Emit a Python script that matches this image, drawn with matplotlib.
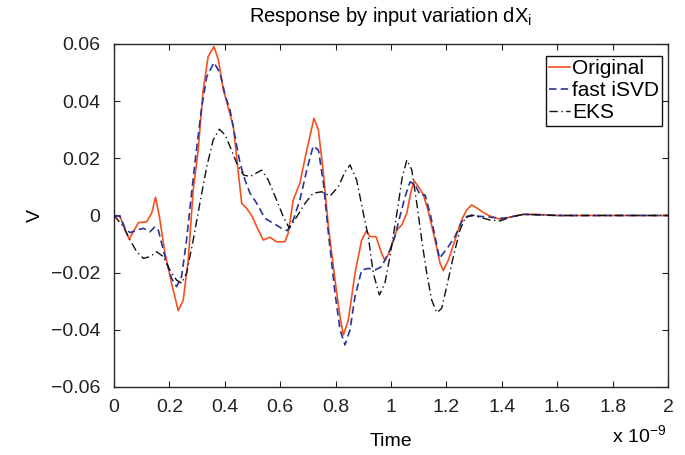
import numpy as np
import matplotlib
matplotlib.use("Agg")
import matplotlib.pyplot as plt

plt.rcParams['font.family'] = ['Liberation Sans', 'DejaVu Sans']
plt.rcParams['mathtext.fontset'] = 'custom'
plt.rcParams['mathtext.rm'] = 'Liberation Sans'
plt.rcParams['mathtext.it'] = 'Liberation Sans:italic'

# time in units of 1e-9 s, response in V
t_orig = [0, 0.022, 0.04, 0.055, 0.07, 0.088, 0.118, 0.136, 0.15, 0.164,
          0.184, 0.208, 0.232, 0.25, 0.268, 0.286, 0.304, 0.322, 0.34, 0.361,
          0.377, 0.395, 0.413, 0.431, 0.449, 0.461, 0.479, 0.5, 0.515, 0.539,
          0.563, 0.587, 0.617, 0.629, 0.647, 0.671, 0.696, 0.722, 0.738, 0.756,
          0.774, 0.798, 0.816, 0.828, 0.846, 0.87, 0.894, 0.912, 0.924, 0.946,
          0.966, 0.978, 0.996, 1.021, 1.039, 1.057, 1.071, 1.083, 1.099, 1.117,
          1.135, 1.159, 1.177, 1.189, 1.207, 1.231, 1.255, 1.273, 1.291, 1.312,
          1.333, 1.357, 1.394, 1.43, 1.478, 1.525, 1.6, 2.0]
v_orig = [0, -0.0004, -0.005, -0.0083, -0.0057, -0.0025, -0.0022, 0.0008, 0.0064, -0.0004,
          -0.0132, -0.0237, -0.0333, -0.0296, -0.0156, 0.0089, 0.0229, 0.0439, 0.0556, 0.0591,
          0.0544, 0.0439, 0.0375, 0.0311, 0.0148, 0.0043, 0.0025, -0.0005, -0.0039, -0.0086,
          -0.0076, -0.0092, -0.0092, -0.0062, 0.0054, 0.0113, 0.0229, 0.034, 0.0299, 0.0148,
          -0.0039, -0.0226, -0.0354, -0.0418, -0.0366, -0.0202, -0.0086, -0.0053, -0.0074, -0.0074,
          -0.0132, -0.0158, -0.0125, -0.0051, -0.0033, 0.0008, 0.0078, 0.0122, 0.0101, 0.0072,
          0.0013, -0.0086, -0.0167, -0.0193, -0.0156, -0.0086, -0.0016, 0.0019, 0.0037, 0.0025,
          0.0011, -0.0002, -0.0013, -0.0006, 0.0004, 0.0004, 0, 0]

t_isvd = [0, 0.022, 0.04, 0.058, 0.082, 0.106, 0.13, 0.148, 0.16, 0.184,
          0.208, 0.226, 0.244, 0.262, 0.28, 0.299, 0.317, 0.335, 0.361, 0.383,
          0.401, 0.419, 0.437, 0.455, 0.473, 0.491, 0.515, 0.545, 0.575, 0.605,
          0.626, 0.647, 0.671, 0.696, 0.719, 0.738, 0.756, 0.774, 0.798, 0.816,
          0.834, 0.852, 0.87, 0.894, 0.918, 0.942, 0.966, 0.996, 1.014, 1.032,
          1.051, 1.069, 1.087, 1.105, 1.123, 1.141, 1.159, 1.175, 1.189, 1.207,
          1.231, 1.255, 1.276, 1.31, 1.357, 1.405, 1.478, 1.6, 2.0]
v_isvd = [0, -0.0003, -0.0045, -0.006, -0.0051, -0.0045, -0.0057, -0.0039, -0.0051, -0.0144,
          -0.022, -0.0249, -0.0214, -0.0086, 0.0078, 0.0241, 0.0381, 0.0486, 0.0535, 0.0498,
          0.0422, 0.0369, 0.0276, 0.0183, 0.0124, 0.0078, 0.0043, -0.001, -0.0027, -0.0045,
          -0.0053, -0.0016, 0.0054, 0.0159, 0.0243, 0.0229, 0.0113, -0.0062, -0.0272, -0.04,
          -0.0453, -0.04, -0.0284, -0.0191, -0.0185, -0.0191, -0.0179, -0.0121, -0.0074, -0.0004,
          0.0066, 0.0118, 0.0107, 0.0072, 0.0072, 0.0008, -0.0074, -0.015, -0.0132, -0.0109,
          -0.0074, -0.0022, -0.0002, -0.0002, -0.0006, -0.001, 0.0004, 0, 0]

t_eks = [0, 0.034, 0.058, 0.082, 0.106, 0.13, 0.154, 0.178, 0.202, 0.226,
         0.244, 0.262, 0.286, 0.31, 0.335, 0.358, 0.38, 0.401, 0.419, 0.443,
         0.467, 0.491, 0.533, 0.557, 0.587, 0.611, 0.633, 0.66, 0.69, 0.719,
         0.75, 0.78, 0.81, 0.834, 0.852, 0.876, 0.9, 0.918, 0.936, 0.958,
         0.978, 0.996, 1.02, 1.04, 1.057, 1.075, 1.093, 1.111, 1.129, 1.147,
         1.165, 1.183, 1.201, 1.225, 1.249, 1.267, 1.291, 1.321, 1.357, 1.394,
         1.43, 1.478, 1.6, 2.0]
v_eks = [0, -0.0039, -0.0086, -0.0127, -0.015, -0.0144, -0.0127, -0.0144, -0.0191, -0.0226,
         -0.0237, -0.0202, -0.0086, 0.0043, 0.0171, 0.0264, 0.0302, 0.0282, 0.0241, 0.0183,
         0.0142, 0.0136, 0.0159, 0.0124, 0.0054, -0.0004, -0.0045, -0.0004, 0.0043, 0.0078,
         0.0083, 0.0068, 0.0101, 0.0153, 0.0177, 0.0124, 0.0008, -0.0074, -0.0202, -0.0278,
         -0.0237, -0.0144, 0.0, 0.013, 0.0194, 0.016, 0.0043, -0.0086, -0.0202, -0.0296,
         -0.034, -0.0325, -0.0249, -0.0144, -0.0051, -0.001, 0.0002, -0.0006, -0.0016, -0.0019,
         -0.0006, 0.0004, 0, 0]

x_ticks = [0, 0.2, 0.4, 0.6, 0.8, 1, 1.2, 1.4, 1.6, 1.8, 2]
x_labels = ['0', '0.2', '0.4', '0.6', '0.8', '1', '1.2', '1.4', '1.6', '1.8', '2']
y_ticks = [-0.06, -0.04, -0.02, 0, 0.02, 0.04, 0.06]
y_labels = ['\u22120.06', '\u22120.04', '\u22120.02', '0', '0.02', '0.04', '0.06']

fig = plt.figure(figsize=(6.85, 4.55), dpi=100)
ax = fig.add_axes([0.1664, 0.1495, 0.8088, 0.7538])

ax.plot(t_orig, v_orig, color='#f4511e', lw=1.2, label='Original')
ax.plot(t_isvd, v_isvd, color='#2a3597', lw=1.2, ls=(0, (4.5, 2.5)), label='fast iSVD')
ax.plot(t_eks, v_eks, color='#111111', lw=1.0, ls=(0, (6, 2.5, 1, 2.5)), label='EKS')

ax.set_xlim(0, 2)
ax.set_ylim(-0.06, 0.06)
ax.set_xticks(x_ticks)
ax.set_xticklabels(x_labels)
ax.set_yticks(y_ticks)
ax.set_yticklabels(y_labels)
ax.tick_params(direction='in', length=4, width=0.8, top=True, right=True,
               labelsize=14, colors='#222222')
ax.tick_params(axis='x', pad=9)
ax.tick_params(axis='y', pad=10)
for s in ax.spines.values():
    s.set_linewidth(1.0)
    s.set_color('#262626')

ax.set_title('Response by input variation dX$_\\mathrm{i}$', fontsize=14.5, pad=16)
ax.set_xlabel('Time', fontsize=14, labelpad=12)
ax.set_ylabel('V', fontsize=14, labelpad=5)
fig.text(0.973, 0.02, 'x 10$^{-9}$', ha='right', va='bottom', fontsize=14)

leg = ax.legend(loc='upper right', bbox_to_anchor=(0.989, 0.965), borderaxespad=0,
                fontsize=15, handlelength=1.0, handletextpad=0.1, labelspacing=0.15,
                borderpad=0.15, fancybox=False, framealpha=1)
leg.get_frame().set_edgecolor('#111111')
leg.get_frame().set_linewidth(1.0)

fig.savefig('out.png', dpi=100)
